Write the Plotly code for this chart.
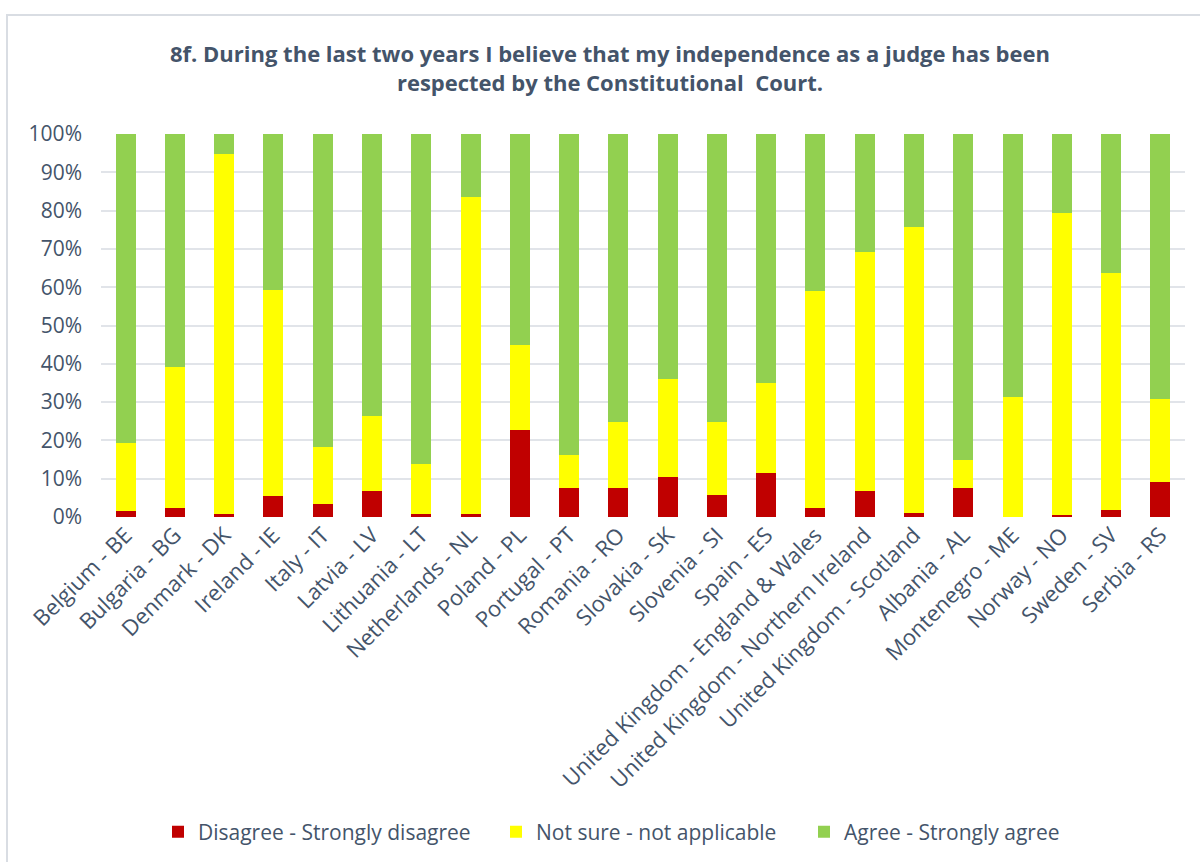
import plotly.graph_objects as go

# ── Data (percent of respondents) ────────────────────────────────────────────
countries = [
    "Belgium - BE", "Bulgaria - BG", "Denmark - DK", "Ireland - IE", "Italy - IT",
    "Latvia - LV", "Lithuania - LT", "Netherlands - NL", "Poland - PL",
    "Portugal - PT", "Romania - RO", "Slovakia - SK", "Slovenia - SI",
    "Spain - ES", "United Kingdom - England & Wales",
    "United Kingdom - Northern Ireland", "United Kingdom - Scotland",
    "Albania - AL", "Montenegro - ME", "Norway - NO", "Sweden - SV", "Serbia - RS",
]
disagree = [1.5, 2.4, 0.8, 5.5, 3.5, 6.9, 0.8, 0.8, 22.6, 7.5, 7.5,
            10.5, 5.8, 11.6, 2.4, 6.9, 1.1, 7.5, 0.0, 0.4, 1.8, 9.2]
not_sure = [17.7, 36.8, 94.1, 53.9, 14.7, 19.4, 13.1, 82.7, 22.3, 8.7, 17.3,
            25.5, 19.0, 23.3, 56.7, 62.3, 74.7, 7.4, 31.3, 79.1, 61.9, 21.7]
agree = [80.8, 60.8, 5.1, 40.6, 81.8, 73.7, 86.1, 16.5, 55.1, 83.8, 75.2,
         64.0, 75.2, 65.1, 40.9, 30.8, 24.2, 85.1, 68.7, 20.5, 36.3, 69.1]
y_ticks = [0, 10, 20, 30, 40, 50, 60, 70, 80, 90, 100]

# ── Styling ──────────────────────────────────────────────────────────────────
FONT = "Open Sans"
TEXT = "#44546A"
W, H = 1200, 862
ML, MR, MT, MB = 101, 15, 134, 345

series = [
    ("Disagree - Strongly disagree", disagree, "#C00000", "legend", 158),
    ("Not sure - not applicable", not_sure, "#FFFF00", "legend2", 496),
    ("Agree - Strongly agree", agree, "#92D050", "legend3", 804),
]

fig = go.Figure()
for name, vals, color, leg, _ in series:
    fig.add_trace(
        go.Bar(
            x=countries,
            y=vals,
            name=name,
            marker=dict(color=color, line=dict(width=0)),
            legend=leg,
            showlegend=True,
        )
    )

legend_common = dict(
    orientation="h",
    xref="container",
    yref="container",
    yanchor="middle",
    y=1 - 832 / H,
    xanchor="left",
    font=dict(family=FONT, size=21, color=TEXT),
    bgcolor="rgba(0,0,0,0)",
)

# chart frame (outer border)
pw = W - ML - MR
ph = H - MT - MB
fig.add_shape(
    type="rect",
    xref="paper", yref="paper",
    x0=(7 - ML) / pw, x1=(1210 - ML) / pw,
    y0=(H - MB - 880) / ph, y1=(H - MB - 15) / ph,
    line=dict(color="#D9DDE3", width=2),
    fillcolor="rgba(0,0,0,0)",
    layer="below",
)

fig.update_layout(
    width=W,
    height=H,
    margin=dict(l=ML, r=MR, t=MT, b=MB, pad=0),
    paper_bgcolor="white",
    plot_bgcolor="white",
    barmode="stack",
    bargap=0.594,
    showlegend=True,
    title=dict(
        text="<b>8f. During the last two years I believe that my independence as a judge has been<br>respected by the Constitutional  Court.</b>",
        x=610 / W,
        xref="container",
        xanchor="center",
        y=1 - 62 / H,
        yref="container",
        yanchor="top",
        font=dict(family=FONT, size=22, color=TEXT),
    ),
    legend=dict(legend_common, x=series[0][4] / W),
    legend2=dict(legend_common, x=series[1][4] / W),
    legend3=dict(legend_common, x=series[2][4] / W),
    hovermode=False,
)

fig.update_xaxes(
    tickangle=-45,
    tickfont=dict(family=FONT, size=22, color=TEXT),
    showline=False,
    ticks="",
)
fig.update_yaxes(
    range=[0, 100],
    tickvals=y_ticks,
    ticktext=[f"{v}%" for v in y_ticks],
    tickfont=dict(family=FONT, size=21, color=TEXT),
    showgrid=True,
    gridcolor="#E1E4E9",
    gridwidth=1.5,
    zeroline=False,
    ticklabelstandoff=18,
)

# page body has a default 8px margin; drop it so the figure sits at (0, 0)
fig.write_html(
    "out.html",
    config={"displayModeBar": False},
    post_script="document.body.style.margin='0';",
)
